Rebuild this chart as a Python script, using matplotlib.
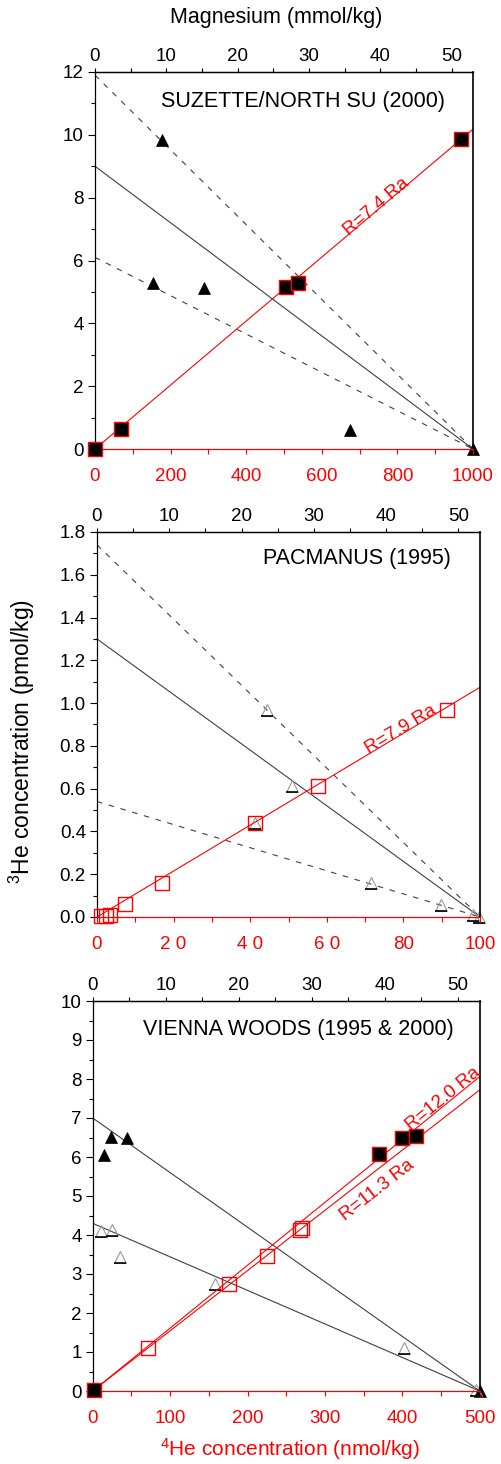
import matplotlib.pyplot as plt
import numpy as np
from matplotlib.path import Path
from matplotlib.ticker import MultipleLocator, FixedLocator

plt.rcParams['font.family'] = ['Liberation Sans', 'DejaVu Sans']
plt.rcParams['mathtext.fontset'] = 'custom'
plt.rcParams['mathtext.rm'] = 'Liberation Sans'
plt.rcParams['mathtext.default'] = 'regular'

RED = '#ff0000'
GREY = '0.25'
MG_MAX = 53
TICK_FS = 13.5

# --- SUZETTE / NORTH SU (2000) ---
suz_he4 = [0, 68, 504, 537, 969]
suz_he3 = [0.0, 0.65, 5.15, 5.29, 9.86]
suz_tri_mg = [9.4, 8.1, 15.3, 35.7, 53.0]
suz_tri_he3 = [9.83, 5.27, 5.11, 0.6, 0.0]
suz_fit_he4 = [0, 1000]
suz_fit_he3 = [0, 10.18]
suz_mix_mg = [0, 53]
suz_mix_solid = [9.0, 0]
suz_mix_dash_hi = [11.9, 0]
suz_mix_dash_lo = [6.1, 0]

# --- PACMANUS (1995) ---
pac_he4 = [1.1, 2.3, 3.5, 7.3, 17.0, 41.3, 57.6, 91.5]
pac_he3 = [0.005, 0.006, 0.008, 0.059, 0.160, 0.438, 0.614, 0.968]
pac_tri_mg = [23.5, 27.0, 21.9, 37.9, 47.6, 52.1, 52.9]
pac_tri_he3 = [0.97, 0.612, 0.438, 0.16, 0.056, 0.008, 0.0]
pac_fit_he4 = [0, 100]
pac_fit_he3 = [0, 1.074]
pac_mix_mg = [0, 53]
pac_mix_solid = [1.30, 0]
pac_mix_dash_hi = [1.74, 0]
pac_mix_dash_lo = [0.54, 0]
pac_bottom_labels = ['0', '2 0', '4 0', '6 0', '80', '100']

# --- VIENNA WOODS (1995 & 2000) ---
vw_he4_2000 = [2, 370, 399, 418]
vw_he3_2000 = [0.03, 6.08, 6.50, 6.54]
vw_he4_1995 = [71.8, 176.4, 224.6, 267.6, 269.8]
vw_he3_1995 = [1.11, 2.75, 3.45, 4.13, 4.17]
vw_tri_mg_2000 = [1.6, 2.5, 4.65, 53.0]
vw_tri_he3_2000 = [6.05, 6.52, 6.50, 0.0]
vw_tri_mg_1995 = [1.1, 2.6, 3.8, 16.8, 42.7, 52.5]
vw_tri_he3_1995 = [4.10, 4.13, 3.44, 2.74, 1.09, 0.03]
vw_fit_he4 = [0, 500]
vw_fit_he3_a = [0, 8.06]   # R=12.0 Ra
vw_fit_he3_b = [0, 7.72]   # R=11.3 Ra
vw_mix_mg = [0, 53]
vw_mix_a = [7.0, 0]
vw_mix_b = [4.3, 0]

base_marker = Path([(-1, -1), (1, -1)], [Path.MOVETO, Path.LINETO])

fig = plt.figure(figsize=(5.01, 14.64), dpi=100)


def panel(rect, ymax, ymaj, ymin, xmax, xmaj, xmin, title, title_xy, yfmt='%d'):
    ax = fig.add_axes(rect)
    ax.set_xlim(0, xmax)
    ax.set_ylim(0, ymax)
    top = ax.twiny()
    top.set_xlim(0, MG_MAX)
    ax.set_zorder(top.get_zorder() + 1)
    ax.patch.set_visible(False)

    ax.yaxis.set_major_locator(MultipleLocator(ymaj))
    ax.yaxis.set_minor_locator(MultipleLocator(ymin))
    ax.yaxis.set_major_formatter(plt.FormatStrFormatter(yfmt))
    ax.xaxis.set_major_locator(MultipleLocator(xmaj))
    ax.xaxis.set_minor_locator(MultipleLocator(xmin))
    top.xaxis.set_major_locator(MultipleLocator(10))
    top.xaxis.set_minor_locator(MultipleLocator(5))

    ax.tick_params(axis='y', which='major', direction='out', length=5,
                   width=0.8, labelsize=TICK_FS, pad=3)
    ax.tick_params(axis='y', which='minor', direction='out', length=3, width=0.8)
    ax.tick_params(axis='x', which='both', direction='out', length=3.5,
                   width=0.8, colors=RED, labelsize=TICK_FS, pad=10.5)
    top.tick_params(axis='x', which='both', direction='out', length=3,
                    width=0.8, labelsize=TICK_FS, pad=2)

    for s in ['left', 'top', 'right']:
        ax.spines[s].set_linewidth(0.9)
    ax.spines['right'].set_linewidth(1.2)
    ax.spines['bottom'].set_color(RED)
    ax.spines['bottom'].set_linewidth(0.9)
    for s in ['bottom', 'left', 'right']:
        top.spines[s].set_visible(False)
    top.spines['top'].set_linewidth(0.9)

    ax.text(title_xy[0], title_xy[1], title, transform=ax.transAxes,
            ha='right', va='center', fontsize=15.5)
    return ax, top


def closed_squares(ax, x, y):
    ax.plot(x, y, 's', ms=9.5, mfc='black', mec=RED, mew=1, clip_on=False, zorder=5)


def open_squares(ax, x, y):
    ax.plot(x, y, 's', ms=10, mfc='none', mec=RED, mew=1, clip_on=False, zorder=5)


def closed_tri(ax, x, y):
    ax.plot(x, y, '^', ms=9, mfc='black', mec='black', mew=0.5, clip_on=False, zorder=4)


def open_tri(ax, x, y):
    ax.plot(x, y, '^', ms=9, mfc='none', mec='0.6', mew=0.8, clip_on=False, zorder=4)
    ax.plot(x, y, marker=base_marker, ls='none', ms=9, mec='black', mew=1.2,
            clip_on=False, zorder=4)


def ratio_label(ax, x, y, slope, s):
    ang = np.degrees(np.arctan(slope))
    ax.text(x, y, s, color=RED, fontsize=13.5, ha='center', va='center',
            rotation=ang, rotation_mode='anchor', transform_rotates_text=True)


# Panel 1
ax1, top1 = panel([95 / 501, 1 - 449 / 1464, 378 / 501, 377 / 1464],
                  12, 2, 1, 1000, 200, 100,
                  'SUZETTE/NORTH SU (2000)', (0.926, 0.921))
top1.plot(suz_mix_mg, suz_mix_solid, color=GREY, lw=0.8)
top1.plot(suz_mix_mg, suz_mix_dash_hi, color=GREY, lw=0.8, ls=(0, (5, 6)))
top1.plot(suz_mix_mg, suz_mix_dash_lo, color=GREY, lw=0.8, ls=(0, (5, 6)))
closed_tri(top1, suz_tri_mg, suz_tri_he3)
ax1.plot(suz_fit_he4, suz_fit_he3, color=RED, lw=0.8)
closed_squares(ax1, suz_he4, suz_he3)
ratio_label(ax1, 745, 7.71, suz_fit_he3[1] / suz_fit_he4[1], 'R=7.4 Ra')

# Panel 2
ax2, top2 = panel([97 / 501, 1 - 917 / 1464, 383 / 501, 385 / 1464],
                  1.8, 0.2, 0.1, 100, 20, 10,
                  'PACMANUS (1995)', (0.925, 0.932), yfmt='%.1f')
ax2.xaxis.set_major_locator(FixedLocator([0, 20, 40, 60, 80, 100]))
ax2.set_xticklabels(pac_bottom_labels)
top2.plot(pac_mix_mg, pac_mix_solid, color=GREY, lw=0.8)
top2.plot(pac_mix_mg, pac_mix_dash_hi, color=GREY, lw=0.8, ls=(0, (5, 6)))
top2.plot(pac_mix_mg, pac_mix_dash_lo, color=GREY, lw=0.8, ls=(0, (5, 6)))
open_tri(top2, pac_tri_mg, pac_tri_he3)
ax2.plot(pac_fit_he4, pac_fit_he3, color=RED, lw=0.8)
open_squares(ax2, pac_he4, pac_he3)
ratio_label(ax2, 79.3, 0.877, pac_fit_he3[1] / pac_fit_he4[1], 'R=7.9 Ra')

# Panel 3
ax3, top3 = panel([92.7 / 501, 1 - 1391 / 1464, 387 / 501, 390 / 1464],
                  10, 1, 0.5, 500, 100, 50,
                  'VIENNA WOODS (1995 & 2000)', (0.934, 0.927))
top3.plot(vw_mix_mg, vw_mix_a, color=GREY, lw=0.8)
top3.plot(vw_mix_mg, vw_mix_b, color=GREY, lw=0.8)
closed_tri(top3, vw_tri_mg_2000, vw_tri_he3_2000)
open_tri(top3, vw_tri_mg_1995, vw_tri_he3_1995)
ax3.plot(vw_fit_he4, vw_fit_he3_a, color=RED, lw=0.8)
ax3.plot(vw_fit_he4, vw_fit_he3_b, color=RED, lw=0.8)
open_squares(ax3, vw_he4_1995, vw_he3_1995)
closed_squares(ax3, vw_he4_2000, vw_he3_2000)
ratio_label(ax3, 452.6, 7.48, vw_fit_he3_a[1] / vw_fit_he4[1], 'R=12.0 Ra')
ratio_label(ax3, 367.7, 5.15, vw_fit_he3_b[1] / vw_fit_he4[1], 'R=11.3 Ra')

# Shared axis titles
fig.text(276 / 501, 1 - 18 / 1464, 'Magnesium (mmol/kg)', ha='center', va='center',
         fontsize=15.5)
fig.text(22 / 501, 1 - 742 / 1464, r'$^{3}$He concentration (pmol/kg)', ha='center',
         va='center', rotation=90, fontsize=16.5)
fig.text(290 / 501, 1 - 1449 / 1464, r'$^{4}$He concentration (nmol/kg)', ha='center',
         va='center', fontsize=15, color=RED)

fig.savefig('out.png', dpi=100)
